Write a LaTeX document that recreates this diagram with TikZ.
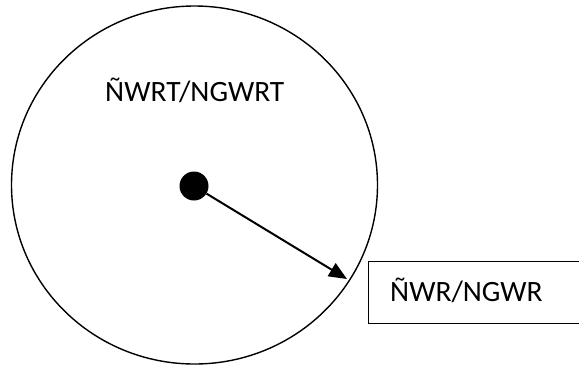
\documentclass[tikz,border=0pt]{standalone}
\usepackage{fontspec}
\setmainfont{Carlito}
\usetikzlibrary{arrows.meta,shapes.geometric}
\begin{document}
\begin{tikzpicture}[x=1pt,y=1pt,
  lbl/.style={inner sep=0pt, anchor=base west, font=\fontsize{29.5}{34}\selectfont},
  outline/.style={draw=black, line width=1.4pt}]
\useasboundingbox (0,0) rectangle (579,-365);
\clip (0,0) rectangle (579,-365);
\node[outline, ellipse, minimum width=366pt, minimum height=358pt, inner sep=0pt] (circ) at (194.5,-185) {};
\node[circle, fill=black, minimum size=29pt, inner sep=0pt] (dot) at (194,-186) {};
\coordinate (tip) at (347,-279);
\draw[line width=2pt, -{Triangle[length=18pt,width=15pt]}] (dot) -- (tip);
\node[outline, rectangle, anchor=north west, minimum width=240pt, minimum height=62pt, inner sep=0pt] (box) at (368,-261) {};
\node[lbl] (t1) at (105,-101) {ÑWRT/NGWRT};
\node[lbl] (t2) at (390,-301) {ÑWR/NGWR};
\end{tikzpicture}
\end{document}
